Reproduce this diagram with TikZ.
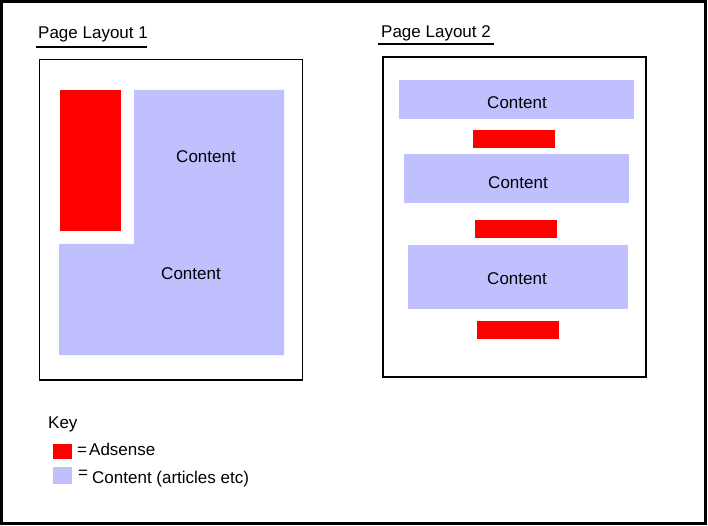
\documentclass[tikz,border=0pt]{standalone}
\usepackage{fontspec}
\setmainfont{Liberation Sans}
\definecolor{adred}{RGB}{255,0,0}
\definecolor{contentblue}{RGB}{192,192,255}
\begin{document}
\begin{tikzpicture}[x=1pt,y=-1pt,
  txt/.style={inner sep=0pt,font=\fontsize{17}{20}\selectfont},
  pagebox/.style={draw=black,line width=1.4pt,fill=white},
  adblock/.style={fill=adred,draw=none},
  contentblock/.style={fill=contentblue,draw=none},
  uline/.style={line width=1.2pt}]
\useasboundingbox (0,0) rectangle (708,526);
\fill[white] (0,0) rectangle (708,526);
\draw[line width=3pt] (1.5,1.5) rectangle (705.5,523.5);

% Page Layout 1
\node[txt,anchor=base west] (t1) at (38,39) {Page Layout 1};
\draw[uline] (36,47) -- (147,47);
\draw[pagebox] (39.5,59.5) rectangle (302.5,380);
\fill[contentblue] (134,90) -- (284,90) -- (284,355) -- (59,355) -- (59,244) -- (134,244) -- cycle;
\fill[adblock] (60,90) rectangle (121,231);
\node[txt] (c1a) at (206,156.5) {Content};
\node[txt] (c1b) at (191,273.5) {Content};

% Page Layout 2
\node[txt,anchor=base west] (t2) at (381,38) {Page Layout 2};
\draw[uline] (378,44) -- (494,44);
\draw[pagebox] (383,57) rectangle (646,377);
\fill[contentblock] (399,80) rectangle (634,119);
\node[txt] (c2a) at (517,102.5) {Content};
\fill[adblock] (473,130) rectangle (555,148);
\fill[contentblock] (404,154) rectangle (629,203);
\node[txt] (c2b) at (518,182.5) {Content};
\fill[adblock] (475,220) rectangle (557,238);
\fill[contentblock] (408,245) rectangle (628,309);
\node[txt] (c2c) at (517,279) {Content};
\fill[adblock] (477,321) rectangle (559,339);

% Key
\node[txt,anchor=base west] (key) at (48,428) {Key};
\fill[adblock] (53,444) rectangle (72,459);
\node[txt,anchor=base west] (eq1) at (77,455) {=};
\node[txt,anchor=base west] (ad) at (89,455) {Adsense};
\fill[contentblock] (53,467) rectangle (72,484);
\node[txt,anchor=base west] (eq2) at (78,478) {=};
\node[txt,anchor=base west] (ct) at (92,483) {Content (articles etc)};
\end{tikzpicture}
\end{document}
